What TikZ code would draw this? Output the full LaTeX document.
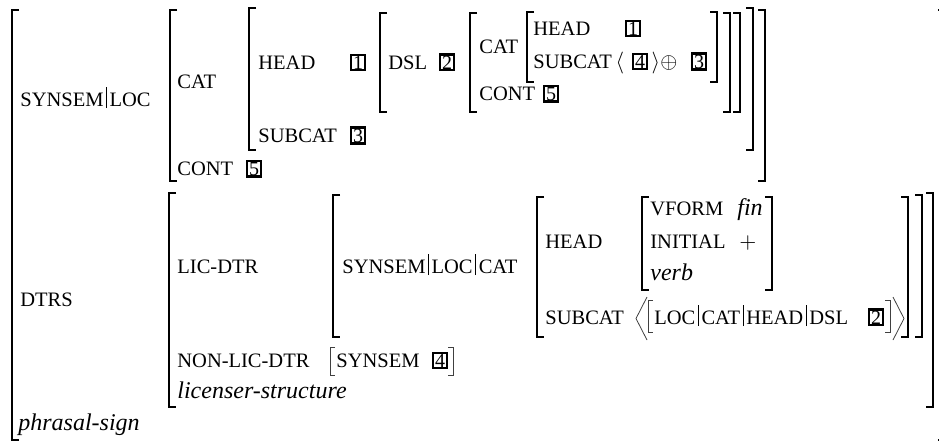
\documentclass[tikz,border=0pt]{standalone}
\usepackage{fontspec}
\setmainfont{Liberation Serif}
\newcommand{\fbar}{\kern1.3pt\rule[-1pt]{0.45pt}{10.5pt}\kern1.3pt}

\begin{document}
\begin{tikzpicture}[x=0.5pt, y=-0.5pt,
    feat/.style = {anchor=base west, inner sep=0pt, font=\fontsize{10.25}{12}\selectfont},
    sortname/.style = {anchor=base west, inner sep=0pt, font=\fontsize{12}{14}\selectfont\itshape},
    tagbox/.style = {draw, line width=1.1pt, anchor=base, inner xsep=1.1pt, inner ysep=0.6pt, font=\fontsize{10}{12}\selectfont},
    symb/.style = {anchor=base, inner sep=0pt, font=\fontsize{11}{13}\selectfont},
    brk/.style = {line width=0.7pt},
    thinbrk/.style = {line width=0.4pt, black!75}]
  \useasboundingbox (0,0) rectangle (939,441);

  % phrasal-sign
  \draw[brk] (19,10) -| (12,440) -- ++(7,0);
  \draw[brk] (938,10) -| (945,440) -- ++(-7,0);
  \node[feat] at (20,106) (synsemloc) {SYNSEM\fbar LOC};
  \node[feat] at (20,306) (dtrs) {DTRS};
  \node[sortname] at (18,430) (phrasal) {phrasal-sign};

  % SYNSEM|LOC value
  \draw[brk] (177,10) -| (170,181) -- ++(7,0);
  \draw[brk] (758,10) -| (765,181) -- ++(-7,0);
  \node[feat] at (177,88) (cat) {CAT};
  \node[feat] at (177,175) (cont) {CONT};
  \node[tagbox] at (254,175) (tagv) {5};

  \draw[brk] (256,8) -| (249,150) -- ++(7,0);
  \draw[brk] (746,8) -| (753,150) -- ++(-7,0);
  \node[feat] at (258,69) (head) {HEAD};
  \node[tagbox] at (358,69) (tagi) {1};
  \node[feat] at (258,142) (subcat) {SUBCAT};
  \node[tagbox] at (358,142) (tagiii) {3};

  % DSL
  \draw[brk] (387,13) -| (380,112) -- ++(7,0);
  \draw[brk] (733,13) -| (740,112) -- ++(-7,0);
  \node[feat] at (388,69) (dsl) {DSL};
  \node[tagbox] at (447,69) (tagii) {2};

  \draw[brk] (477,13) -| (470,112) -- ++(7,0);
  \draw[brk] (723,13) -| (730,112) -- ++(-7,0);
  \node[feat] at (479,53) (dslcat) {CAT};
  \node[feat] at (479,100) (dslcont) {CONT};
  \node[tagbox] at (551,100) (dsltagv) {5};

  \draw[brk] (534,12) -| (527,82) -- ++(7,0);
  \draw[brk] (710,12) -| (717,82) -- ++(-7,0);
  \node[feat] at (533,35) (dslhead) {HEAD};
  \node[tagbox] at (633,35) (dsltagi) {1};
  \node[feat] at (533,68) (dslsubcat) {SUBCAT};
  \node[symb] at (620,68) (langle) {$\langle$};
  \node[tagbox] at (640,68) (dsltagiv) {4};
  \node[symb] at (656,68) (rangle) {$\rangle$};
  \node[symb] at (669,68) (oplus) {$\oplus$};
  \node[tagbox] at (699,68) (dsltagiii) {3};

  % DTRS value
  \draw[brk] (176,193) -| (169,407) -- ++(7,0);
  \draw[brk] (926,193) -| (933,407) -- ++(-7,0);
  \node[feat] at (177,273) (licdtr) {LIC-DTR};
  \node[feat] at (177,367) (nonlic) {NON-LIC-DTR};
  \draw[thinbrk] (335,347) -| (330,375) -- ++(5,0);
  \node[feat] at (336,367) (nlsynsem) {SYNSEM};
  \node[tagbox] at (440,367) (nltagiv) {4};
  \draw[thinbrk] (448,347) -| (453,375) -- ++(-5,0);
  \node[sortname] at (177,398) (licstruct) {licenser-structure};

  \draw[brk] (340,195) -| (333,337) -- ++(7,0);
  \draw[brk] (915,195) -| (922,337) -- ++(-7,0);
  \node[feat] at (342,273) (slcat) {SYNSEM\fbar LOC\fbar CAT};

  \draw[brk] (544,197) -| (537,337) -- ++(7,0);
  \draw[brk] (901,197) -| (908,337) -- ++(-7,0);
  \node[feat] at (545,248) (lhead) {HEAD};
  \node[feat] at (545,324) (lsubcat) {SUBCAT};

  \draw[brk] (649,197) -| (642,290) -- ++(7,0);
  \draw[brk] (765,197) -| (772,290) -- ++(-7,0);
  \node[feat] at (650,215) (vform) {VFORM};
  \node[sortname] at (737,215) (fin) {fin};
  \node[feat] at (650,248) (initial) {INITIAL};
  \node[symb] at (748,248) (plus) {$+$};
  \node[sortname] at (650,280) (verb) {verb};

  % subcat list
  \draw[thinbrk] (647,297) -- (636,318.5) -- (647,340);
  \draw[thinbrk] (653,300) -| (648,332) -- ++(5,0);
  \node[feat] at (654,324) (path) {LOC\fbar CAT\fbar HEAD\fbar DSL};
  \node[tagbox] at (876,324) (ltagii) {2};
  \draw[thinbrk] (885,300) -| (890,332) -- ++(-5,0);
  \draw[thinbrk] (893,297) -- (904,318.5) -- (893,340);
\end{tikzpicture}
\end{document}
